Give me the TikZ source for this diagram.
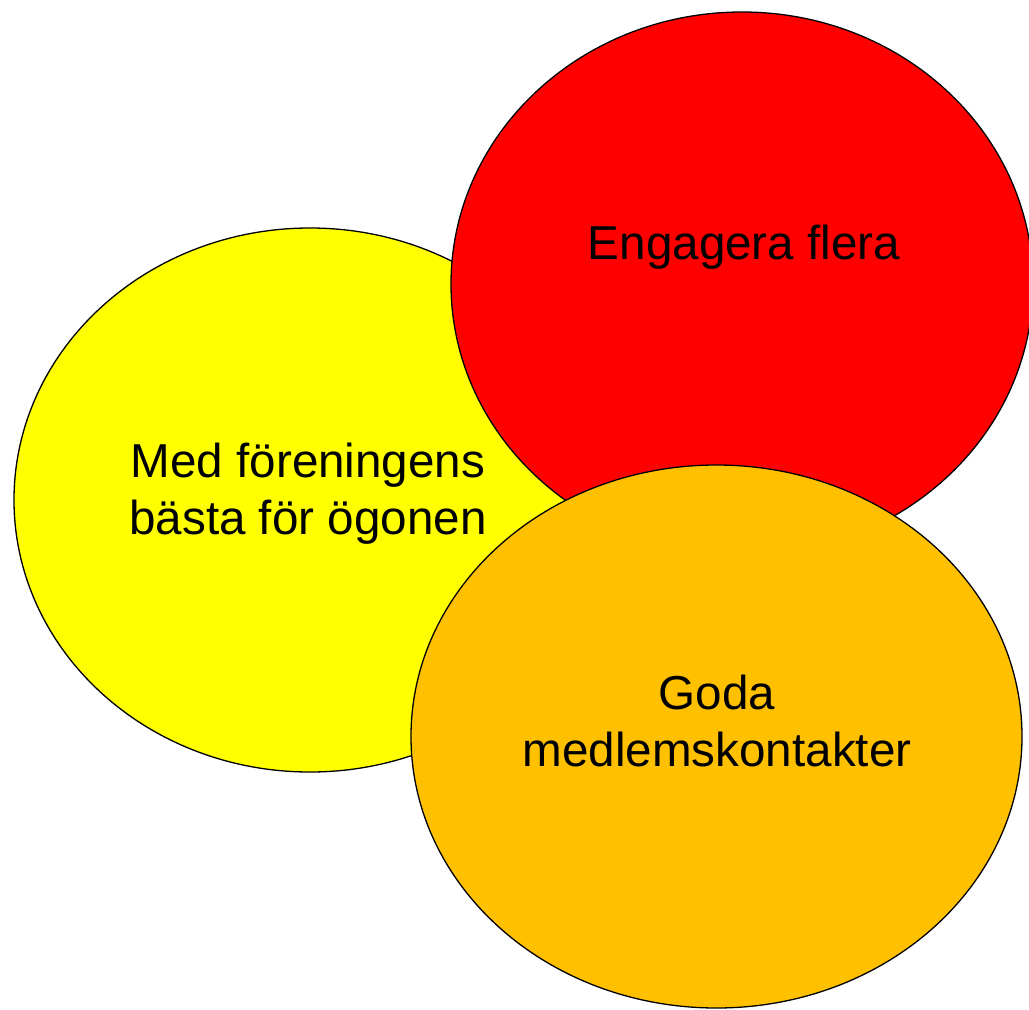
\documentclass[tikz,border=0pt]{standalone}
\usepackage{fontspec}
\setmainfont{Liberation Sans}
\usetikzlibrary{shapes.geometric}
\definecolor{cyellow}{HTML}{FFFF00}
\definecolor{cred}{HTML}{FF0000}
\definecolor{corange}{HTML}{FFC000}
\begin{document}
\begin{tikzpicture}[x=1pt,y=-1pt,
  blob/.style={ellipse,draw=black,line width=1.3pt,inner sep=0pt},
  lbl/.style={align=center,font=\fontsize{47.6}{57}\selectfont,inner sep=0pt}]
\useasboundingbox (0,0) rectangle (1029,1010);
\node[blob,fill=cyellow,minimum width=592pt,minimum height=544pt] (yel) at (310,500) {};
\node[blob,fill=cred,minimum width=582pt,minimum height=544pt] (red) at (742,284) {};
\node[blob,fill=corange,minimum width=611pt,minimum height=543pt] (ora) at (716.5,736.5) {};
\node[lbl] (tyel) at (308,494) {Med föreningens\\bästa för ögonen};
\node[lbl] (tred) at (744,247) {Engagera flera};
\node[lbl] (tora) at (717,721) {Goda\\medlemskontakter};
\end{tikzpicture}
\end{document}
